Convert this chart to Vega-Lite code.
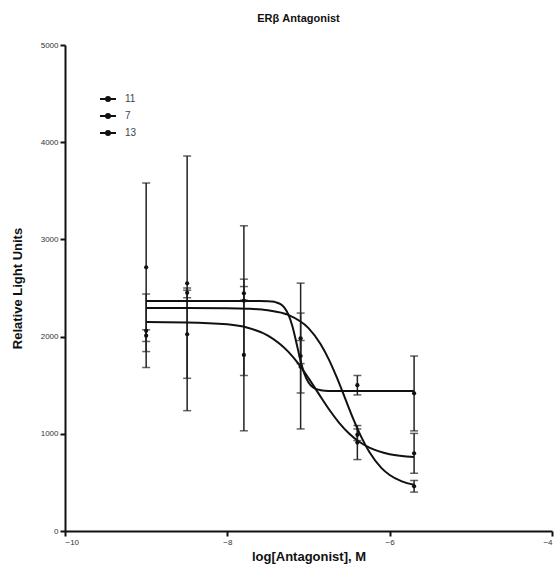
{
  "$schema": "https://vega.github.io/schema/vega-lite/v6.json",
  "autosize": {"type": "none"},
  "padding": {"left": 65, "top": 45, "right": 7, "bottom": 49},
  "width": 487,
  "height": 486,
  "background": "white",
  "title": {"text": "ERβ Antagonist", "font": "Liberation Sans", "fontSize": 11, "fontWeight": "bold", "color": "#111", "offset": 17, "dx": -10, "anchor": "middle"},
  "config": {
    "view": {"stroke": null},
    "axis": {"grid": false, "domainColor": "#111", "domainWidth": 2, "tickColor": "#111", "tickWidth": 2, "tickSize": 5, "labelFont": "Liberation Sans", "labelFontSize": 8, "labelColor": "#333", "titleFont": "Liberation Sans", "titleFontSize": 13, "titleFontWeight": "bold", "titleColor": "#111"},
    "legend": {"orient": "none", "legendX": 34, "legendY": 45, "padding": 0, "rowPadding": 2, "labelOffset": 8, "labelFont": "Liberation Sans", "labelFontSize": 10, "labelColor": "#444"}
  },
  "datasets": {
    "pts": [
      {"compound": "11", "x": -9, "mean": 2713, "lo": 1846, "hi": 3580},
      {"compound": "7", "x": -9, "mean": 2010, "lo": 1950, "hi": 2070},
      {"compound": "13", "x": -9, "mean": 2060, "lo": 1682, "hi": 2438},
      {"compound": "11", "x": -8.495, "mean": 2548, "lo": 1238, "hi": 3858},
      {"compound": "13", "x": -8.495, "mean": 2450, "lo": 2400, "hi": 2500},
      {"compound": "7", "x": -8.495, "mean": 2024, "lo": 1571, "hi": 2477},
      {"compound": "11", "x": -7.796, "mean": 2370, "lo": 1600, "hi": 3140},
      {"compound": "13", "x": -7.796, "mean": 2445, "lo": 2375, "hi": 2515},
      {"compound": "7", "x": -7.796, "mean": 1811, "lo": 1031, "hi": 2591},
      {"compound": "11", "x": -7.097, "mean": 1800, "lo": 1050, "hi": 2550},
      {"compound": "13", "x": -7.097, "mean": 1982, "lo": 1722, "hi": 2242},
      {"compound": "7", "x": -7.097, "mean": 1690, "lo": 1420, "hi": 1960},
      {"compound": "11", "x": -6.398, "mean": 1500, "lo": 1400, "hi": 1600},
      {"compound": "13", "x": -6.398, "mean": 990, "lo": 930, "hi": 1050},
      {"compound": "7", "x": -6.398, "mean": 910, "lo": 735, "hi": 1085},
      {"compound": "11", "x": -5.699, "mean": 1417, "lo": 1030, "hi": 1800},
      {"compound": "7", "x": -5.699, "mean": 799, "lo": 594, "hi": 1004},
      {"compound": "13", "x": -5.699, "mean": 460, "lo": 400, "hi": 520}
    ],
    "curve": [
      {"series": "11", "x": -9, "y": 2366},
      {"series": "11", "x": -8.5, "y": 2366},
      {"series": "11", "x": -8, "y": 2366},
      {"series": "11", "x": -7.6, "y": 2365},
      {"series": "11", "x": -7.5, "y": 2363},
      {"series": "11", "x": -7.45, "y": 2360},
      {"series": "11", "x": -7.4, "y": 2352},
      {"series": "11", "x": -7.35, "y": 2336},
      {"series": "11", "x": -7.3, "y": 2301},
      {"series": "11", "x": -7.25, "y": 2231},
      {"series": "11", "x": -7.2, "y": 2111},
      {"series": "11", "x": -7.15, "y": 1940},
      {"series": "11", "x": -7.1, "y": 1759},
      {"series": "11", "x": -7.05, "y": 1616},
      {"series": "11", "x": -7.0, "y": 1528},
      {"series": "11", "x": -6.95, "y": 1481},
      {"series": "11", "x": -6.9, "y": 1459},
      {"series": "11", "x": -6.85, "y": 1449},
      {"series": "11", "x": -6.8, "y": 1444},
      {"series": "11", "x": -6.7, "y": 1441},
      {"series": "11", "x": -6.5, "y": 1440},
      {"series": "11", "x": -6.0, "y": 1440},
      {"series": "11", "x": -5.7, "y": 1440},
      {"series": "13", "x": -9, "y": 2294},
      {"series": "13", "x": -8.5, "y": 2294},
      {"series": "13", "x": -8, "y": 2292},
      {"series": "13", "x": -7.75, "y": 2287},
      {"series": "13", "x": -7.5, "y": 2271},
      {"series": "13", "x": -7.25, "y": 2223},
      {"series": "13", "x": -7, "y": 2087},
      {"series": "13", "x": -6.85, "y": 1922},
      {"series": "13", "x": -6.75, "y": 1766},
      {"series": "13", "x": -6.65, "y": 1577},
      {"series": "13", "x": -6.55, "y": 1367},
      {"series": "13", "x": -6.45, "y": 1157},
      {"series": "13", "x": -6.35, "y": 968},
      {"series": "13", "x": -6.25, "y": 812},
      {"series": "13", "x": -6.1, "y": 647},
      {"series": "13", "x": -6, "y": 576},
      {"series": "13", "x": -5.85, "y": 511},
      {"series": "13", "x": -5.7, "y": 476},
      {"series": "7", "x": -9, "y": 2149},
      {"series": "7", "x": -8.5, "y": 2146},
      {"series": "7", "x": -8, "y": 2126},
      {"series": "7", "x": -7.75, "y": 2091},
      {"series": "7", "x": -7.5, "y": 2011},
      {"series": "7", "x": -7.25, "y": 1846},
      {"series": "7", "x": -7.125, "y": 1722},
      {"series": "7", "x": -7, "y": 1573},
      {"series": "7", "x": -6.875, "y": 1413},
      {"series": "7", "x": -6.75, "y": 1255},
      {"series": "7", "x": -6.625, "y": 1116},
      {"series": "7", "x": -6.5, "y": 1003},
      {"series": "7", "x": -6.375, "y": 918},
      {"series": "7", "x": -6.25, "y": 858},
      {"series": "7", "x": -6, "y": 790},
      {"series": "7", "x": -5.7, "y": 762}
    ]
  },
  "layer": [
    {
      "data": {"name": "pts"},
      "mark": {"type": "errorbar", "ticks": {"size": 8, "thickness": 1.5}, "thickness": 1.5, "color": "#222"},
      "encoding": {
        "x": {"field": "x", "type": "quantitative", "scale": {"domain": [-10, -4], "nice": false, "zero": false},
              "axis": {"title": "log[Antagonist], M", "values": [-10, -8, -6, -4], "format": "d", "titlePadding": 4, "labelPadding": 2}},
        "y": {"field": "lo", "type": "quantitative", "scale": {"domain": [0, 5000], "nice": false},
              "axis": {"title": "Relative Light Units", "values": [0, 1000, 2000, 3000, 4000, 5000], "format": "d", "titlePadding": 16, "labelPadding": 2}},
        "y2": {"field": "hi"},
        "detail": {"field": "compound"}
      }
    },
    {
      "data": {"name": "pts"},
      "mark": {"type": "point", "filled": true, "size": 18, "opacity": 1, "color": "#111", "shape": "circle"},
      "encoding": {
        "x": {"field": "x", "type": "quantitative"},
        "y": {"field": "mean", "type": "quantitative"}
      }
    },
    {
      "data": {"name": "curve"},
      "mark": {"type": "line", "strokeWidth": 2, "interpolate": "monotone"},
      "encoding": {
        "x": {"field": "x", "type": "quantitative"},
        "y": {"field": "y", "type": "quantitative"},
        "color": {"field": "series", "type": "nominal", "sort": ["11", "7", "13"], "scale": {"range": ["#111", "#111", "#111"]},
                  "legend": {"title": null,
                             "symbolType": "M-1,0H1M-0.25,0A0.25,0.25,0,1,0,0.25,0A0.25,0.25,0,1,0,-0.25,0Z",
                             "symbolSize": 256, "symbolStrokeWidth": 2, "symbolFillColor": "#111"}}
      }
    }
  ]
}
